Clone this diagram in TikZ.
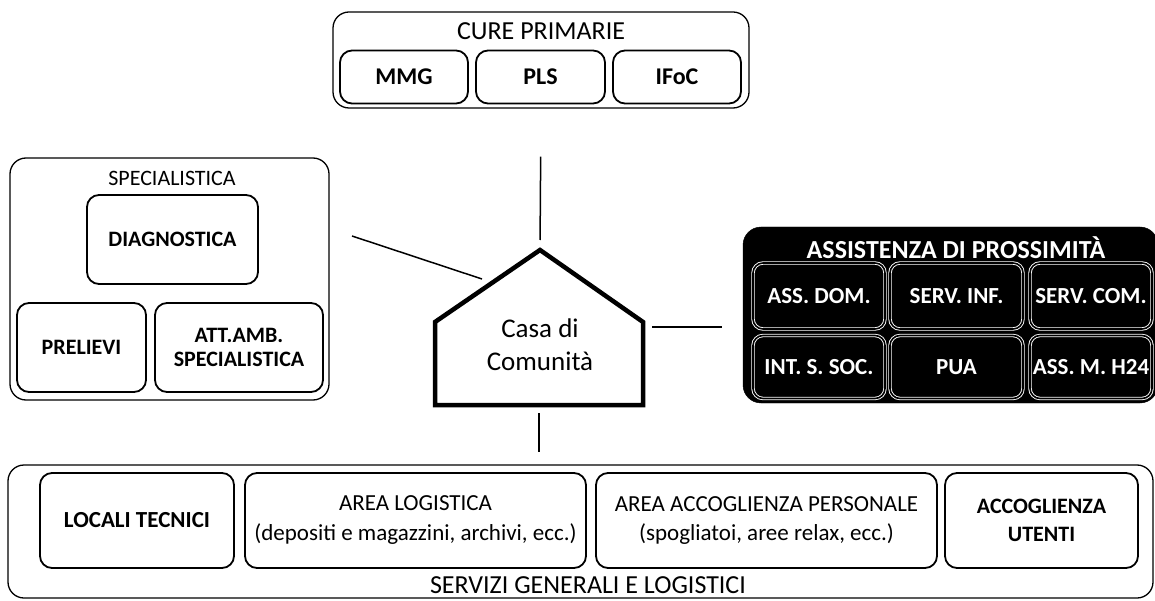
\documentclass[tikz,border=0pt]{standalone}
\usepackage{fontspec}
\setmainfont{Carlito}
\newcommand{\fs}[1]{\fontsize{#1}{\the\numexpr#1*6/5\relax}\selectfont}
\newcommand{\fsb}[2]{\fontsize{#1}{#2}\selectfont}
\begin{document}
\begin{tikzpicture}[x=1pt,y=-1pt,
  outerbox/.style={draw, line width=1.3pt, rounded corners=16pt, inner sep=0pt},
  ibox/.style={draw, line width=1.8pt, rounded corners=12pt, align=center, inner sep=0pt},
  dbox/.style={fill=black, draw=white, double=black, line width=0.9pt, double distance=1.6pt, rounded corners=10pt, text=white, align=center, inner sep=0pt, font=\fs{23}\bfseries},
  conn/.style={line width=1.5pt},
  housestyle/.style={line width=4.5pt, line join=miter},
  lbl/.style={inner sep=0pt, align=center}]
\useasboundingbox (0,0) rectangle (1155,601);

% ---------- CURE PRIMARIE ----------
\node[outerbox, minimum width=416pt, minimum height=96pt] (cure) at (541,60) {};
\node[lbl, font=\fs{26}] (curet) at (541,31) {CURE PRIMARIE};
\node[ibox, minimum width=128pt, minimum height=53pt, font=\fs{24}\bfseries] (mmg) at (404,77) {MMG};
\node[ibox, minimum width=129pt, minimum height=53pt, font=\fs{24}\bfseries] (pls) at (540.5,77) {PLS};
\node[ibox, minimum width=128pt, minimum height=53pt, font=\fs{24}\bfseries] (ifoc) at (677,77) {IFoC};

% ---------- SPECIALISTICA ----------
\node[outerbox, minimum width=319pt, minimum height=242pt] (spec) at (169.5,279) {};
\node[lbl, font=\fs{22}] (spect) at (172,178) {SPECIALISTICA};
\node[ibox, minimum width=171pt, minimum height=89pt, font=\fs{22}\bfseries] (diag) at (172.5,239.5) {DIAGNOSTICA};
\node[ibox, minimum width=129pt, minimum height=89pt, font=\fs{22}\bfseries] (prel) at (81.5,347.5) {PRELIEVI};
\node[ibox, minimum width=168pt, minimum height=89pt, font=\fsb{22}{24}\bfseries] (att) at (239,347.5) {ATT.AMB.\\SPECIALISTICA};

% ---------- ASSISTENZA DI PROSSIMITA ----------
\node[fill=black, draw=black, rounded corners=18pt, minimum width=415pt, minimum height=176pt, inner sep=0pt] (assist) at (950.5,315) {};
\node[lbl, text=white, font=\fs{26}\bfseries] (assistt) at (956,248) {ASSISTENZA DI PROSSIMITÀ};
\node[dbox, minimum width=132pt, minimum height=66pt] (ad) at (819,296) {ASS. DOM.};
\node[dbox, minimum width=133pt, minimum height=66pt] (si) at (956.5,296) {SERV. INF.};
\node[dbox, minimum width=122pt, minimum height=66pt] (sc) at (1091,296) {SERV. COM.};
\node[dbox, minimum width=132pt, minimum height=63pt] (is) at (819,367) {INT. S. SOC.};
\node[dbox, minimum width=133pt, minimum height=63pt] (pua) at (956.5,367) {PUA};
\node[dbox, minimum width=122pt, minimum height=63pt] (am) at (1091,367) {ASS. M. H24};

% ---------- CASA DI COMUNITA ----------
\coordinate (hApex) at (540,250);
\coordinate (hL) at (435,322);
\coordinate (hR) at (643,322);
\coordinate (hBL) at (435,405);
\coordinate (hBR) at (643,405);
\draw[housestyle] (hApex) -- (hR) -- (hBR) -- (hBL) -- (hL) -- cycle;
\node[lbl, font=\fsb{27}{33}] (casa) at (540,345) {Casa di\\Comunità};
\coordinate (hTop) at (540,250);
\coordinate (hBot) at (539,405);
\coordinate (hEast) at (645,327);
\coordinate (roofPt) at (482,279);
\coordinate (specPt) at (352,236);

% ---------- SERVIZI GENERALI ----------
\node[outerbox, minimum width=1145pt, minimum height=133pt] (serv) at (580.5,531.5) {};
\node[lbl, font=\fs{26}] (servt) at (588,585) {SERVIZI GENERALI E LOGISTICI};
\node[ibox, minimum width=194pt, minimum height=95pt, font=\fs{23}\bfseries] (lt) at (137,520.5) {LOCALI TECNICI};
\node[ibox, minimum width=341pt, minimum height=95pt, font=\fsb{23}{30}] (al) at (415.5,520.5) {AREA LOGISTICA\\(depositi e magazzini, archivi, ecc.)};
\node[ibox, minimum width=341pt, minimum height=95pt, font=\fsb{23}{29}] (aap) at (766.5,520.5) {AREA ACCOGLIENZA PERSONALE\\(spogliatoi, aree relax, ecc.)};
\node[ibox, minimum width=193pt, minimum height=95pt, font=\fsb{22}{28}\bfseries] (au) at (1041.5,520.5) {ACCOGLIENZA\\UTENTI};

% ---------- CONNECTORS ----------
\draw[conn, shorten <=48pt, shorten >=10pt] (cure.south) -- (hTop);
\draw[conn] (specPt) -- (roofPt);
\draw[conn, shorten <=7pt, shorten >=21pt] (hEast) -- (assist.west |- hEast);
\draw[conn, shorten <=8pt, shorten >=12pt] (hBot) -- (hBot |- serv.north);
\end{tikzpicture}
\end{document}
